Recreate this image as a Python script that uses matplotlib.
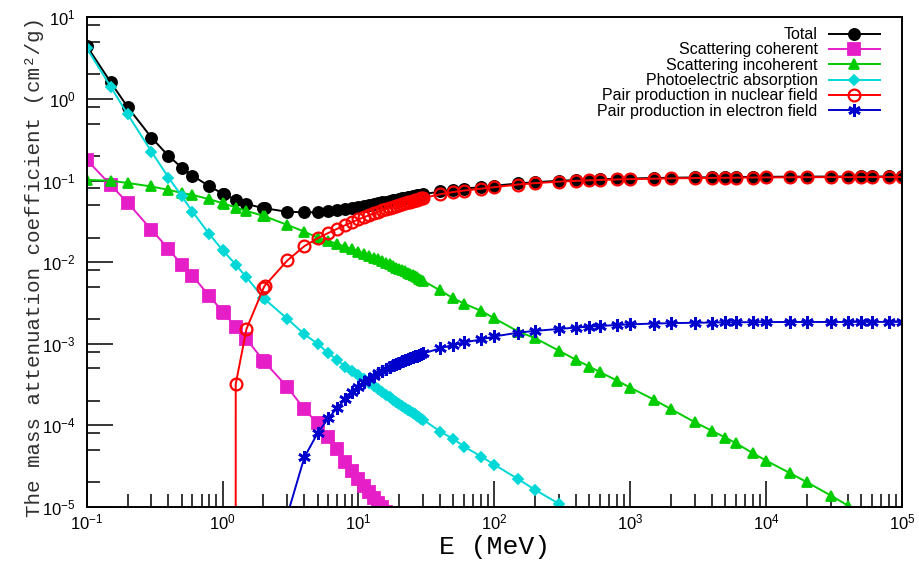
import numpy as np
import matplotlib
matplotlib.use("Agg")
import matplotlib.pyplot as plt
from matplotlib.ticker import LogLocator, FixedLocator, NullFormatter

plt.rcParams['font.family'] = ['Liberation Sans', 'DejaVu Sans']
plt.rcParams['mathtext.default'] = 'regular'

nan = np.nan

# photon energy grid (MeV)
energy = [0.1, 0.15, 0.2, 0.3, 0.4, 0.5, 0.6, 0.8, 1.0, 1.022, 1.25, 1.5, 2.0, 2.044,
          3, 4, 5, 6, 7, 8, 9, 10, 11, 12, 13, 14, 15, 16, 17, 18, 19, 20,
          21, 22, 23, 24, 25, 26, 27, 28, 29, 30,
          40, 50, 60, 80, 100, 150, 200, 300, 400, 500, 600, 800,
          1e3, 1.5e3, 2e3, 3e3, 4e3, 5e3, 6e3, 8e3, 1e4, 1.5e4, 2e4, 3e4, 4e4,
          5e4, 6e4, 8e4, 1e5]

# mass attenuation coefficients (cm2/g)
total = [4.48, 1.61, 0.798, 0.336, 0.2005, 0.1446, 0.1153, 0.085, 0.0694, 0.0683,
         0.0579, 0.0517, 0.0459, 0.0458,
         0.0414, 0.0409, 0.0408, 0.042, 0.0432, 0.0447, 0.0461, 0.0476, 0.049, 0.0504,
         0.0518, 0.053, 0.0542, 0.0553, 0.0564, 0.0576, 0.0586, 0.0596, 0.0606, 0.0615,
         0.0624, 0.0633, 0.0641, 0.0649, 0.0658, 0.0666, 0.0673, 0.068,
         0.0735, 0.0771, 0.0797, 0.0832, 0.0863, 0.0923, 0.0956, 0.0994, 0.1015, 0.1029,
         0.1039, 0.1053,
         0.106, 0.1075, 0.1084, 0.1092, 0.1098, 0.1102, 0.1105, 0.1109, 0.1112, 0.1116,
         0.1118, 0.112, 0.1121, 0.1122, 0.1122, 0.1123, 0.1123]

coherent = [0.18, 0.0885, 0.0537, 0.0249, 0.0146, 0.00927, 0.00679, 0.00386, 0.00248,
            0.00238, 0.0016, 0.00114, 0.000622, 0.000596,
            2.94e-4, 1.58e-4, 1.06e-4, 7.17e-5, 5.1e-5, 3.6e-5, 2.75e-5, 2.2e-5, 1.8e-5,
            1.52e-5, 1.3e-5, 1.13e-5, 9.9e-6, 8.7e-6, 7.7e-6, 6.9e-6, 6.2e-6, 5.6e-6,
            5.1e-6, 4.6e-6, 4.2e-6, 3.9e-6, 3.6e-6, 3.3e-6, 3.1e-6, 2.9e-6, 2.7e-6, 2.5e-6,
            1.4e-6, 9.0e-7, 6.2e-7, 3.5e-7, 2.2e-7, 1.0e-7, 5.6e-8, 2.5e-8, 1.4e-8, 9.0e-9,
            6.2e-9, 3.5e-9,
            2.2e-9, 1.0e-9, 5.6e-10, 2.5e-10, 1.4e-10, 9.0e-11, 6.2e-11, 3.5e-11, 2.2e-11,
            1.0e-11, 5.6e-12, 2.5e-12, 1.4e-12, 9.0e-13, 6.2e-13, 3.5e-13, 2.2e-13]

incoherent = [0.102, 0.0995, 0.0935, 0.0846, 0.0769, 0.0705, 0.0668, 0.0591, 0.0528,
              0.0523, 0.0467, 0.0425, 0.0369, 0.0365,
              0.0286, 0.0237, 0.0200, 0.0182, 0.0167, 0.0155, 0.0144, 0.0135, 0.0127,
              0.0120, 0.0114, 0.0108, 0.0103, 0.0098, 0.0094, 0.0090, 0.0086, 0.0083,
              0.0080, 0.0077, 0.0074, 0.0072, 0.0069, 0.0067, 0.0065, 0.0063, 0.0061, 0.0059,
              0.0045, 0.0036, 0.0031, 0.00253, 0.00205, 0.00141, 0.00117, 8.2e-4, 6.35e-4,
              5.26e-4, 4.49e-4, 3.54e-4,
              2.9e-4, 2.06e-4, 1.58e-4, 1.09e-4, 8.57e-5, 7.1e-5, 6.05e-5, 4.56e-5, 3.7e-5,
              2.6e-5, 2.01e-5, 1.38e-5, 1.04e-5, 8.4e-6, 7.1e-6, 5.4e-6, 4.4e-6]

photoelectric = [4.2, 1.42, 0.651, 0.226, 0.109, 0.0648, 0.0417, 0.022, 0.0141, 0.0136,
                 0.0093, 0.00655, 0.00362, 0.00352,
                 2.02e-3, 1.31e-3, 1.0e-3, 7.7e-4, 6.3e-4, 5.26e-4, 4.6e-4, 4.1e-4, 3.67e-4,
                 3.32e-4, 3.02e-4, 2.77e-4, 2.56e-4, 2.37e-4, 2.21e-4, 2.07e-4, 1.94e-4,
                 1.83e-4, 1.73e-4, 1.64e-4, 1.56e-4, 1.49e-4, 1.42e-4, 1.36e-4, 1.31e-4,
                 1.26e-4, 1.21e-4, 1.17e-4,
                 8.4e-5, 6.8e-5, 5.5e-5, 4.15e-5, 3.3e-5, 2.19e-5, 1.62e-5, 1.09e-5, 8.1e-6,
                 6.5e-6, 5.4e-6, 4.0e-6,
                 3.2e-6, 2.1e-6, 1.6e-6, 1.07e-6, 8.0e-7, 6.4e-7, 5.3e-7, 4.0e-7, 3.2e-7,
                 2.1e-7, 1.6e-7, 1.07e-7, 8.0e-8, 6.4e-8, 5.3e-8, 4.0e-8, 3.2e-8]

pair_nuclear = [nan, nan, nan, nan, nan, nan, nan, nan, nan, 0.0,
                3.2e-4, 1.52e-3, 4.8e-3, 5.15e-3,
                0.0105, 0.0157, 0.0196, 0.0228, 0.0257, 0.0284, 0.031, 0.0334, 0.0356,
                0.0377, 0.0397, 0.0415, 0.0432, 0.0448, 0.0463, 0.0478, 0.0492, 0.0505,
                0.0518, 0.053, 0.0542, 0.0553, 0.0564, 0.0574, 0.0584, 0.0594, 0.0603, 0.0612,
                0.068, 0.0725, 0.0755, 0.0795, 0.083, 0.0895, 0.093, 0.097, 0.0993, 0.1008,
                0.1018, 0.1032,
                0.104, 0.1055, 0.1064, 0.1073, 0.1079, 0.1083, 0.1086, 0.109, 0.1093,
                0.1097, 0.1099, 0.1101, 0.1102, 0.1103, 0.1103, 0.1104, 0.1104]

pair_electron = [nan, nan, nan, nan, nan, nan, nan, nan, nan, nan, nan, nan, nan, nan,
                 8.0e-6, 4.07e-5, 8.0e-5, 1.22e-4, 1.65e-4, 2.1e-4, 2.55e-4, 2.98e-4,
                 3.38e-4, 3.75e-4, 4.08e-4, 4.38e-4, 4.66e-4, 4.93e-4, 5.18e-4, 5.42e-4,
                 5.65e-4, 5.87e-4, 6.08e-4, 6.28e-4, 6.47e-4, 6.65e-4, 6.83e-4, 7.0e-4,
                 7.16e-4, 7.32e-4, 7.47e-4, 7.62e-4,
                 8.8e-4, 9.7e-4, 1.04e-3, 1.13e-3, 1.23e-3, 1.37e-3, 1.44e-3, 1.52e-3,
                 1.58e-3, 1.62e-3, 1.65e-3, 1.70e-3,
                 1.73e-3, 1.77e-3, 1.79e-3, 1.81e-3, 1.82e-3, 1.83e-3, 1.835e-3, 1.84e-3,
                 1.845e-3, 1.85e-3, 1.85e-3, 1.85e-3, 1.852e-3, 1.853e-3, 1.854e-3,
                 1.855e-3, 1.855e-3]

labels = ["Total", "Scattering coherent", "Scattering incoherent",
          "Photoelectric absorption", "Pair production in nuclear field",
          "Pair production in electron field"]

x_decades = [1e-1, 1e0, 1e1, 1e2, 1e3, 1e4, 1e5]
y_decades = [1e-5, 1e-4, 1e-3, 1e-2, 1e-1, 1e0, 1e1]

series = [total, coherent, incoherent, photoelectric, pair_nuclear, pair_electron]
for s in series:
    assert len(s) == len(energy)

# color, marker, markersize, fill, edge width
styles = [
    ("#000000", "o", 8, "full", 1.3),
    ("#E61EC8", "s", 8.5, "full", 1.3),
    ("#00CC00", "^", 7, "full", 1.3),
    ("#00D8D8", "D", 5.5, "full", 1.3),
    ("#FF0000", "o", 8.5, "none", 1.6),
    ("#0000CC", (6, 2, 0), 9, "full", 1.9),
]

fig = plt.figure(figsize=(9.19, 5.62), dpi=100)
ax = fig.add_axes([0.0943, 0.0979, 0.8872, 0.8712])

for vals, lab, (col, mk, ms, fill, mew) in zip(series, labels, styles):
    ax.plot(energy, vals, color=col, lw=1.4, marker=mk, markersize=ms,
            fillstyle=fill, markeredgewidth=mew, markeredgecolor=col, label=lab)

ax.set_xscale('log')
ax.set_yscale('log')
ax.set_xlim(x_decades[0], x_decades[-1])
ax.set_ylim(y_decades[0], y_decades[-1])

ax.xaxis.set_major_locator(FixedLocator(x_decades))
ax.xaxis.set_minor_locator(LogLocator(base=10, subs=np.arange(2, 10), numticks=20))
ax.yaxis.set_major_locator(FixedLocator(y_decades))
ax.yaxis.set_minor_locator(LogLocator(base=10, subs=(2, 5, 8), numticks=20))
ax.xaxis.set_minor_formatter(NullFormatter())
ax.yaxis.set_minor_formatter(NullFormatter())

ax.tick_params(which='both', direction='in', color='black', width=1.1,
               labelsize=12, top=False, right=False)
ax.tick_params(which='major', length=19)
ax.tick_params(which='minor', length=9.5)
ax.tick_params(axis='y', pad=8)
ax.tick_params(axis='x', pad=4)
for sp in ax.spines.values():
    sp.set_linewidth(1.4)

mono = 'Liberation Mono'
ax.set_xlabel("E (MeV)", family=mono, fontsize=19)
ax.set_ylabel("The mass attenuation coefficient (cm²/g)", family=mono,
              fontsize=15, color='#303030')
ax.xaxis.set_label_coords(0.5, -0.058)
ax.xaxis.label.set_va('top')
ax.yaxis.set_label_coords(-0.052, 0.49)

ax.legend(loc='upper right', bbox_to_anchor=(0.973, 0.98), frameon=False,
          markerfirst=False, fontsize=11.5, handlelength=3.2, handletextpad=0.7,
          labelspacing=0.02, borderpad=0, borderaxespad=0, numpoints=1)

fig.savefig("out.png", dpi=100)
